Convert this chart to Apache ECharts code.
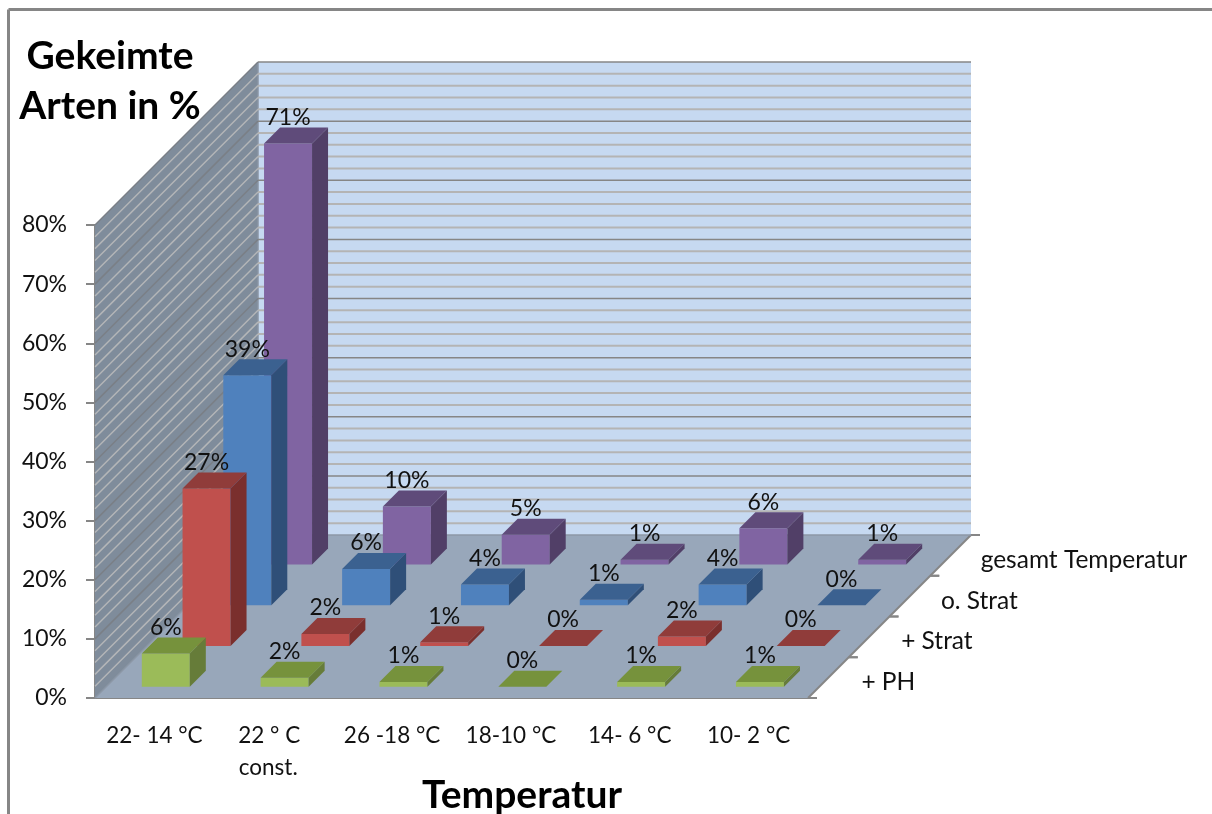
<!DOCTYPE html>
<html><head><meta charset="utf-8">
<style>html,body{margin:0;padding:0;background:#fff}#c{width:1212px;height:814px}</style>
<script src="https://cdn.jsdelivr.net/npm/echarts@6/dist/echarts.min.js"></script>
</head><body><div id="c"></div>
<script>
const categories = ['22- 14 °C', '{m|22 ° C}\n{s|const.}', '26 -18 °C', '18-10 °C', '14- 6 °C', '10- 2 °C'];
const depthLabels = ['+ PH', '+ Strat', 'o. Strat', 'gesamt Temperatur'];
const phValues = [5.6, 1.5, 0.8, 0, 0.8, 0.8];
const stratValues = [26.6, 2.0, 0.6, 0, 1.6, 0];
const oStratValues = [38.9, 6.1, 3.5, 0.9, 3.5, 0];
const totalValues = [71.2, 9.8, 5.0, 0.8, 6.1, 0.8];
const wallLevels = [2,4,6,8,10,12,14,16,18,20,22,24,26,28,30,32,34,36,38,40,42,44,46,48,50,52,54,56,58,60,62,64,66,68,70,72,74,76,78,80];

const FONT = 'Lato';
const DX = 40.75, DY = -40.75;     // one depth slot on screen
const BAR_W = 48, BAR_D = 16;
const YMAX = 80, NC = categories.length, ND = depthLabels.length;

function wallsItem(params, api) {
  const band = api.size([1, 0])[0];
  const x0 = api.coord([0, 0])[0] - band / 2, x1 = x0 + band * NC;
  const y0 = api.coord([0, 0])[1], yT = api.coord([0, YMAX])[1];
  const ox = DX * ND, oy = DY * ND;
  const poly = (pts, fill) => ({ type: 'polygon', shape: { points: pts }, style: { fill: fill, stroke: null } });
  const line = (a, b, c, w) => ({ type: 'line', shape: { x1: a[0], y1: a[1], x2: b[0], y2: b[1] }, style: { stroke: c, lineWidth: w } });
  return { type: 'group', children: [
    poly([[x0 + ox, yT + oy], [x1 + ox, yT + oy], [x1 + ox, y0 + oy], [x0 + ox, y0 + oy]], '#C6D9F1'),
    poly([[x0, yT], [x0 + ox, yT + oy], [x0 + ox, y0 + oy], [x0, y0]], '#7F8C9B'),
    poly([[x0, y0], [x1, y0], [x1 + ox, y0 + oy], [x0 + ox, y0 + oy]], '#98A7BA'),
    line([x0, y0], [x0 + ox, y0 + oy], '#8C97A6', 1.5),
    line([x1, y0], [x1 + ox, y0 + oy], '#868686', 2),
    line([x0 + ox, y0 + oy], [x1 + ox, y0 + oy], '#8C97A6', 1.5),
    line([x0 + ox, yT + oy], [x0 + ox, y0 + oy], '#8A95A3', 1.5)
  ] };
}

function gridItem(params, api) {
  const band = api.size([1, 0])[0];
  const v = api.value(1);
  const p = api.coord([0, v]);
  const x0 = p[0] - band / 2, x1 = x0 + band * NC, y = p[1];
  const ox = DX * ND, oy = DY * ND;
  const major = v % 10 === 0;
  return { type: 'group', children: [
    { type: 'line', shape: { x1: x0, y1: y, x2: x0 + ox, y2: y + oy },
      style: { stroke: major ? '#7A7F86' : '#B4B6B8', lineWidth: 1.5 } },
    { type: 'line', shape: { x1: x0 + ox, y1: y + oy, x2: x1 + ox, y2: y + oy },
      style: { stroke: major ? '#868686' : '#B4B4B4', lineWidth: major ? 1.5 : 2 } }
  ] };
}

function depthItem(params, api) {
  const band = api.size([1, 0])[0];
  const k = api.value(2);
  const p = api.coord([0, 0]);
  const ex = p[0] - band / 2 + band * NC, ey = p[1];
  const kids = [];
  for (const q of [k, k + 1]) {
    const tx = ex + DX * q, ty = ey + DY * q;
    kids.push({ type: 'line', shape: { x1: tx, y1: ty, x2: tx + 9, y2: ty }, style: { stroke: '#868686', lineWidth: 2 } });
  }
  kids.push({ type: 'text', x: ex + DX * (k + 0.5) + 33 - k, y: ey + DY * (k + 0.5) + 4 + k / 3,
    style: { text: depthLabels[k], fill: '#111', font: '24.5px ' + FONT, textAlign: 'left', textVerticalAlign: 'middle' } });
  return { type: 'group', children: kids };
}

function barRenderer(slot, front, top, side) {
  return function (params, api) {
    const i = api.value(0), v = api.value(1);
    const base = api.coord([i, 0]), tip = api.coord([i, v]);
    const inset = (DX - BAR_D) / 2 - 1;
    const cx = base[0] + inset + DX * slot;
    const shift = -inset + DY * slot;
    const yB = base[1] + shift, yT = tip[1] + shift;
    const l = cx - BAR_W / 2, r = cx + BAR_W / 2, d = BAR_D;
    const poly = (pts, fill) => ({ type: 'polygon', shape: { points: pts }, style: { fill: fill, stroke: null } });
    return { type: 'group', children: [
      poly([[l, yT], [r, yT], [r, yB], [l, yB]], front),
      poly([[r, yT], [r + d, yT - d], [r + d, yB - d], [r, yB]], side),
      poly([[l, yT], [r, yT], [r + d, yT - d], [l + d, yT - d]], top),
      { type: 'text', x: cx, y: yT - d - 10,
        style: { text: Math.round(v) + '%', fill: '#111', font: '23px ' + FONT, textAlign: 'center', textVerticalAlign: 'middle' } }
    ] };
  };
}

const pairs = a => a.map((v, i) => [i, v]);
const custom = (name, data, renderItem) => ({ name, type: 'custom', data, renderItem, silent: true, clip: false, animation: false, encode: { x: 0, y: 1 } });

const chart = echarts.init(document.getElementById('c'), null, { renderer: 'canvas' });
chart.setOption({
  animation: false,
  backgroundColor: '#fff',
  title: [
    { text: 'Gekeimte\nArten in %', left: 105, top: 26, textAlign: 'center',
      textStyle: { fontFamily: FONT, fontWeight: 'bold', fontSize: 39, lineHeight: 50, color: '#000' } },
    { text: 'Temperatur', left: 517, top: 771, textAlign: 'center',
      textStyle: { fontFamily: FONT, fontWeight: 'bold', fontSize: 39, color: '#000' } }
  ],
  grid: { left: 95, right: 404, top: 225, bottom: 116, containLabel: false },
  xAxis: { type: 'category', data: categories, boundaryGap: true,
    axisLine: { lineStyle: { color: '#868686', width: 2 } },
    axisTick: { length: 9, lineStyle: { color: '#868686', width: 2 } },
    axisLabel: { interval: 0, margin: 25, color: '#111', fontFamily: FONT, fontSize: 22.5, lineHeight: 26,
      rich: {
        m: { fontFamily: FONT, fontSize: 22.5, lineHeight: 26, color: '#111', padding: [0, 8, 0, 0] },
        s: { fontFamily: FONT, fontSize: 22.5, lineHeight: 38, color: '#111', padding: [0, 10, 0, 0] }
      } } },
  yAxis: { type: 'value', min: 0, max: YMAX, interval: 10,
    axisLine: { show: true, lineStyle: { color: '#868686', width: 2 } },
    axisTick: { show: true, length: 9, lineStyle: { color: '#868686', width: 2 } },
    splitLine: { show: false },
    axisLabel: { margin: 28, color: '#111', fontFamily: FONT, fontSize: 23, padding: [5, 0, 0, 0], formatter: '{value}%' } },
  graphic: [
    { type: 'line', shape: { x1: 8.5, y1: 9.5, x2: 1212, y2: 9.5 }, style: { stroke: '#868686', lineWidth: 3 } },
    { type: 'line', shape: { x1: 8.5, y1: 9.5, x2: 8.5, y2: 814 }, style: { stroke: '#868686', lineWidth: 3 } }
  ],
  series: [
    custom('walls', [[0, YMAX]], wallsItem),
    custom('gridlines', wallLevels.map(v => [0, v]), gridItem),
    custom('depth', depthLabels.map((d, k) => [0, 0, k]), depthItem),
    custom(depthLabels[3], pairs(totalValues), barRenderer(3, '#8064A2', '#5F4B7A', '#513F67')),
    custom(depthLabels[2], pairs(oStratValues), barRenderer(2, '#4F81BD', '#3B6190', '#2F4F78')),
    custom(depthLabels[1], pairs(stratValues), barRenderer(1, '#C0504D', '#903C3A', '#7A2F2D')),
    custom(depthLabels[0], pairs(phValues), barRenderer(0, '#9BBB59', '#76923C', '#667C39'))
  ]
});
</script></body></html>
